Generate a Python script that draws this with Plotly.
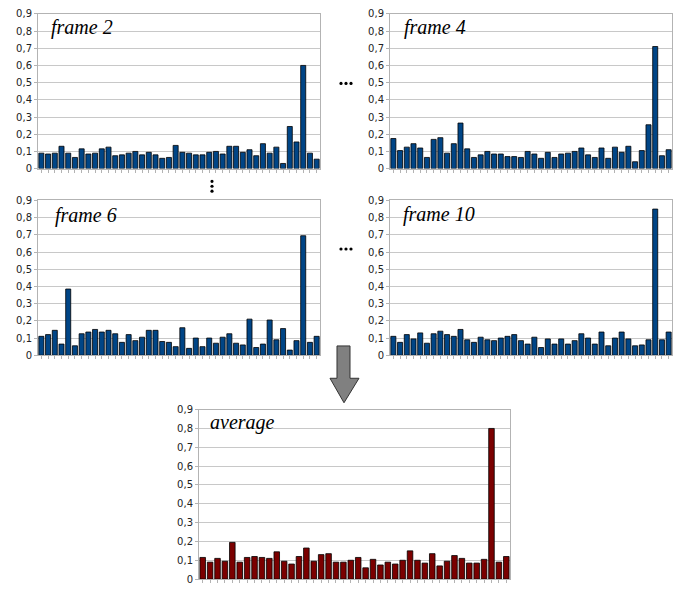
import plotly.graph_objects as go

W, H = 682, 590

categories = list(range(1, 43))

frame2 = [0.09, 0.085, 0.09, 0.13, 0.09, 0.065, 0.115, 0.085, 0.09, 0.115, 0.125, 0.075, 0.08, 0.09,
          0.10, 0.08, 0.095, 0.08, 0.06, 0.065, 0.135, 0.095, 0.09, 0.08, 0.08, 0.095, 0.10, 0.085,
          0.13, 0.13, 0.095, 0.11, 0.075, 0.145, 0.09, 0.125, 0.03, 0.245, 0.155, 0.60, 0.09, 0.055]
frame4 = [0.175, 0.105, 0.125, 0.145, 0.12, 0.065, 0.17, 0.18, 0.09, 0.145, 0.265, 0.115, 0.065, 0.08,
          0.10, 0.085, 0.085, 0.07, 0.07, 0.065, 0.10, 0.085, 0.06, 0.095, 0.065, 0.085, 0.09, 0.10,
          0.12, 0.08, 0.065, 0.12, 0.06, 0.125, 0.095, 0.13, 0.04, 0.105, 0.255, 0.71, 0.075, 0.11]
frame6 = [0.11, 0.12, 0.145, 0.065, 0.385, 0.055, 0.125, 0.135, 0.15, 0.135, 0.145, 0.125, 0.075, 0.12,
          0.085, 0.105, 0.145, 0.145, 0.08, 0.075, 0.05, 0.16, 0.04, 0.10, 0.05, 0.10, 0.07, 0.105,
          0.125, 0.07, 0.06, 0.21, 0.045, 0.065, 0.205, 0.09, 0.155, 0.03, 0.085, 0.695, 0.075, 0.11]
frame10 = [0.11, 0.075, 0.12, 0.095, 0.13, 0.07, 0.125, 0.14, 0.12, 0.11, 0.15, 0.09, 0.075, 0.105,
           0.09, 0.085, 0.10, 0.11, 0.12, 0.085, 0.065, 0.105, 0.045, 0.095, 0.065, 0.095, 0.065, 0.085,
           0.125, 0.10, 0.065, 0.135, 0.055, 0.10, 0.135, 0.095, 0.055, 0.06, 0.09, 0.85, 0.09, 0.135]
average = [0.115, 0.09, 0.11, 0.095, 0.195, 0.09, 0.115, 0.12, 0.115, 0.11, 0.145, 0.095, 0.08, 0.12,
           0.165, 0.095, 0.13, 0.135, 0.09, 0.09, 0.10, 0.115, 0.06, 0.105, 0.075, 0.09, 0.08, 0.10,
           0.15, 0.10, 0.085, 0.135, 0.07, 0.095, 0.125, 0.11, 0.085, 0.085, 0.105, 0.80, 0.09, 0.12]

titles = ["frame 2", "frame 4", "frame 6", "frame 10", "average"]
series = [frame2, frame4, frame6, frame10, average]
colors = ["#004586", "#004586", "#004586", "#004586", "#7b0000"]

# panel pixel boxes: (left, right, top, bottom)
boxes = [(38, 320, 8, 166), (390, 672, 8, 166), (38, 320, 198.5, 356.5),
         (390, 672, 198.5, 356.5), (199, 510, 412, 585)]
title_pos = [(49, 22), (402, 22), (53, 214), (401, 213), (208, 425)]


def px(x, y):
    return x / W, 1 - y / H


fig = go.Figure()
for i, (vals, col) in enumerate(zip(series, colors)):
    n = "" if i == 0 else str(i + 1)
    fig.add_trace(go.Bar(x=categories, y=vals, marker=dict(color=col, line=dict(color="#000000", width=0.8)),
                         xaxis="x" + n, yaxis="y" + n, showlegend=False))
    l, r, t, b = boxes[i]
    x0, y1 = px(l, t)
    x1, y0 = px(r, b)
    fig.layout["xaxis" + n] = dict(domain=[x0, x1], anchor="y" + n, range=[0.5, 42.5],
                                   showticklabels=False, ticks="outside", ticklen=3, tickcolor="#b3b3b3",
                                   tickvals=categories, showgrid=False, showline=True, mirror=True,
                                   linecolor="#b3b3b3", linewidth=1, zeroline=False, fixedrange=True)
    fig.layout["yaxis" + n] = dict(domain=[y0, y1], anchor="x" + n, range=[0, 0.9], dtick=0.1,
                                   tick0=0, ticks="outside", ticklen=3, tickcolor="#b3b3b3",
                                   showgrid=True, gridcolor="#c8c8c8", gridwidth=1,
                                   showline=True, mirror=True, linecolor="#b3b3b3", zeroline=False,
                                   tickfont=dict(family="DejaVu Sans", size=10, color="#222222"))
    tx, ty = px(*title_pos[i])
    fig.add_annotation(x=tx, y=ty, xref="paper", yref="paper", xanchor="left", yanchor="middle",
                       text=titles[i], showarrow=False,
                       font=dict(family="Liberation Serif", size=20, color="#000000", style="italic"))

shapes = []
# horizontal ellipses
for cy in (79, 248):
    for cx in (341, 346, 351):
        a0, b1 = px(cx - 1.6, cy - 1.6)
        a1, b0 = px(cx + 1.6, cy + 1.6)
        shapes.append(dict(type="circle", xref="paper", yref="paper", x0=a0, x1=a1, y0=b0, y1=b1,
                           fillcolor="#000000", line=dict(width=0)))
# vertical ellipsis
for cy in (179, 184, 189):
    cx = 212
    a0, b1 = px(cx - 1.6, cy - 1.6)
    a1, b0 = px(cx + 1.6, cy + 1.6)
    shapes.append(dict(type="circle", xref="paper", yref="paper", x0=a0, x1=a1, y0=b0, y1=b1,
                       fillcolor="#000000", line=dict(width=0)))
# arrow
pts = [(337, 347), (350, 347), (350, 380), (359, 380), (344, 405), (330, 380), (337, 380)]
path = "M " + " L ".join("%.5f,%.5f" % px(x, y) for x, y in pts) + " Z"
shapes.append(dict(type="path", xref="paper", yref="paper", path=path, fillcolor="#808080",
                   line=dict(color="#333333", width=1)))

fig.update_layout(width=W, height=H, margin=dict(l=0, r=0, t=0, b=0), bargap=0.25,
                  plot_bgcolor="white", paper_bgcolor="white", separators=", ",
                  shapes=shapes)
fig.write_html("out.html")
